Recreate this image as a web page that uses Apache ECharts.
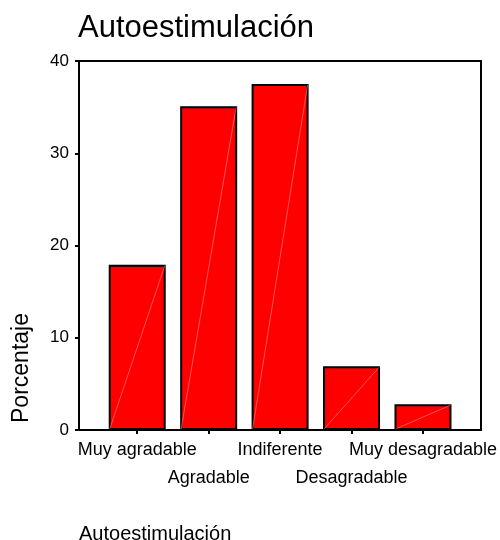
<!DOCTYPE html>
<html>
<head>
<meta charset="utf-8">
<script src="https://cdn.jsdelivr.net/npm/echarts@6/dist/echarts.min.js"></script>
<style>html,body{margin:0;padding:0;background:#fff}#c{width:500px;height:540px}</style>
</head>
<body>
<div id="c"></div>
<script>
const categories = ['Muy agradable', 'Agradable', 'Indiferente', 'Desagradable', 'Muy desagradable'];
const values = [17.9, 35.1, 37.5, 6.9, 2.8];
const yTicks = [0, 10, 20, 30, 40];
const titleText = 'Autoestimulación';
const xName = 'Autoestimulación';
const yName = 'Porcentaje';

const FONT = 'Liberation Sans, Arial, sans-serif';
const chart = echarts.init(document.getElementById('c'), null, {renderer: 'canvas'});
const option = {
  animation: false,
  backgroundColor: '#fff',
  title: [
    {text: titleText, left: 73, top: 8, textStyle: {fontFamily: FONT, fontSize: 31, fontWeight: 'normal', color: '#000'}},
    {text: xName, left: 74, top: 519, textStyle: {fontFamily: FONT, fontSize: 20, fontWeight: 'normal', color: '#000'}}
  ],
  grid: [
    {left: 79, right: 19, top: 61, bottom: 110, show: true, borderColor: '#000', borderWidth: 2, backgroundColor: 'transparent'},
    {left: 101.5, right: 41, top: 61, bottom: 110}
  ],
  xAxis: [
    {gridIndex: 0, type: 'value', min: 0, max: 1, show: false},
    {gridIndex: 1, type: 'category', data: categories,
     axisLine: {show: false},
     axisTick: {show: true, alignWithLabel: true, length: 4, lineStyle: {color: '#000', width: 2}},
     axisLabel: {interval: 0, margin: 6, fontFamily: FONT, fontSize: 18, color: '#000', lineHeight: 28,
       formatter: function (v, i) { return i % 2 ? '\n' + v : v; }}}
  ],
  yAxis: [
    {gridIndex: 0, type: 'value', min: yTicks[0], max: yTicks[yTicks.length - 1], interval: 10,
     axisLine: {show: true, lineStyle: {color: '#000', width: 2}},
     axisTick: {show: true, length: 4, lineStyle: {color: '#000', width: 2}},
     splitLine: {show: false},
     axisLabel: {fontFamily: FONT, fontSize: 17, color: '#000', margin: 10}},
    {gridIndex: 1, type: 'value', min: yTicks[0], max: yTicks[yTicks.length - 1], show: false}
  ],
  series: [
    {type: 'bar', xAxisIndex: 1, yAxisIndex: 1, data: values, barWidth: 57,
     itemStyle: {color: '#ff0000', borderColor: '#000', borderWidth: 2}},
    {type: 'custom', xAxisIndex: 1, yAxisIndex: 1, data: values.map((v, i) => [i, v]), z: 3, silent: true,
     renderItem: function (params, api) {
       const base = api.coord([api.value(0), 0]);
       const top = api.coord([api.value(0), api.value(1)]);
       const hw = 27.5;
       return {type: 'line', shape: {x1: base[0] - hw, y1: base[1] - 1, x2: base[0] + hw, y2: top[1] + 1},
               style: {stroke: 'rgba(255,170,170,0.5)', lineWidth: 1}};
     }}
  ],
  graphic: [
    {type: 'text', x: 22, y: 368, rotation: Math.PI / 2,
     style: {text: yName, fontFamily: FONT, fontSize: 23, fill: '#000', align: 'center', verticalAlign: 'middle'}}
  ]
};
chart.setOption(option);
</script>
</body>
</html>
